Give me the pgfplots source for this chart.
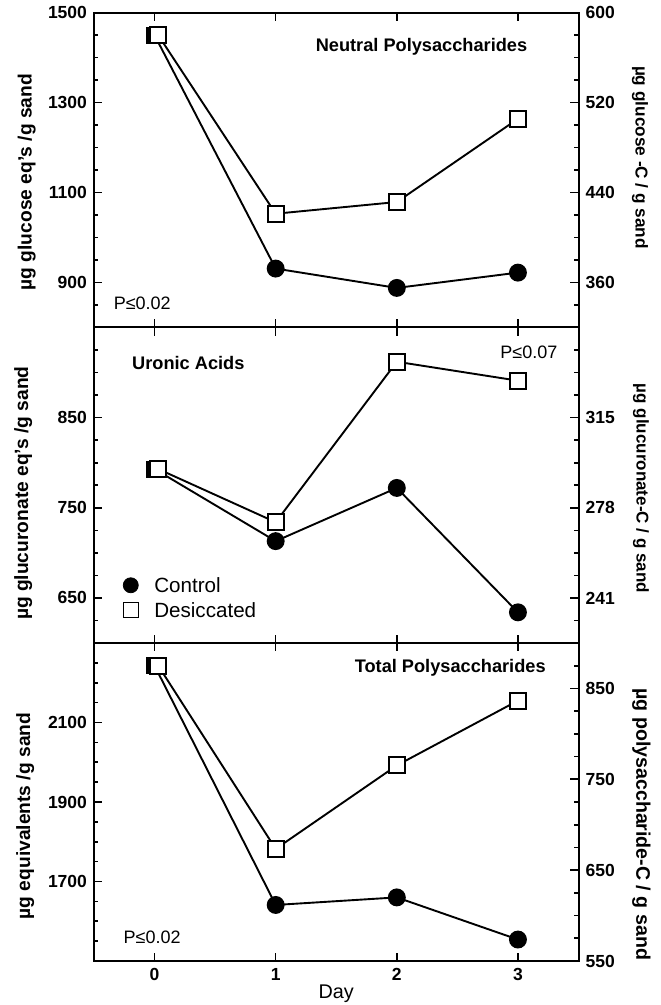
\documentclass[border=0pt]{standalone}
\usepackage{fontspec}
\setmainfont{Liberation Sans}
\usepackage{pgfplots}
\pgfplotsset{compat=1.18}

\pgfplotsset{
  common/.style={
    scale only axis, width=242.25pt,
    xmin=-0.5, xmax=3.5,
    tick align=inside,
    axis line style={-, line width=1pt},
    every tick/.style={black, line width=0.8pt},
    major tick length=4.2pt, minor tick length=2.2pt,
    /pgf/number format/assume math mode=true,
    /pgf/number format/1000 sep={},
    tick label style={font=\bfseries\fontsize{8.75}{10}\selectfont},
    label style={font=\bfseries\fontsize{9.6}{11}\selectfont},
    clip=false,
  },
  base/.style={common, xtick={0,1,2,3}, xtick pos=both, ytick pos=left, minor x tick num=0},
  twin/.style={common, axis x line=none, axis y line*=right, ytick pos=right},
  ctrl/.style={black, line width=0.95pt, mark=*, mark size=4pt, mark indices={2,3,4}, mark options={solid}},
  ctrlzero/.style={only marks, mark=square*, mark size=4pt, black},
  desi/.style={black, line width=0.95pt, mark=square*, mark size=4pt, mark options={solid, fill=white, draw=black, line width=1pt}},
}
\newcommand{\ttl}{\bfseries\fontsize{9.1}{11}\selectfont}
\newcommand{\pval}{\fontsize{9}{11}\selectfont}

\begin{document}
\begin{tikzpicture}
\useasboundingbox (-47pt,-22pt) rectangle (283pt,480.5pt);

% ---------------- Panel 1: Neutral Polysaccharides
\begin{axis}[base, at={(0,316.75pt)}, anchor=south west, height=157.4pt,
  ymin=800, ymax=1500, ytick={900,1100,1300,1500}, minor ytick={850,900,...,1450},
  xticklabels={,,,},
  ylabel={µg glucose eq's /g sand},
  ylabel style={at={(axis description cs:-0.139,0.462)}, anchor=center}]
  \addplot[ctrl] coordinates {(0,1450) (1,931) (2,888) (3,922)};
  \addplot[ctrlzero] coordinates {(0,1450)};
  \addplot[desi] coordinates {(0.03,1450) (1,1053) (2,1079) (3,1264)};
  \node[anchor=base east, inner sep=0pt, font=\ttl] at (axis description cs:0.895,0.876) {Neutral Polysaccharides};
  \node[anchor=base west, inner sep=0pt, font=\pval] at (axis description cs:0.040,0.0556) {P≤0.02};
\end{axis}
\begin{axis}[twin, at={(0,316.75pt)}, anchor=south west, height=157.4pt,
  ymin=320, ymax=600, ytick={360,440,520,600}, minor ytick={340,360,...,580},
  ylabel={µg glucose -C / g sand},
  ylabel style={at={(axis description cs:1.127,0.54)}, anchor=center, rotate=180, font=\bfseries\fontsize{8.6}{10}\selectfont}]
\end{axis}

% ---------------- Panel 2: Uronic Acids
\begin{axis}[base, at={(0,159pt)}, anchor=south west, height=157.75pt,
  ymin=600, ymax=950, ytick={650,750,850}, minor ytick={625,650,...,925},
  xticklabels={,,,},
  ylabel={µg glucuronate eq's /g sand},
  ylabel style={at={(axis description cs:-0.146,0.475)}, anchor=center},
  legend style={at={(axis description cs:0.0596,0.208)}, anchor=north west, draw=none, fill=none,
    inner sep=0pt, row sep=5pt, column sep=6pt, font=\fontsize{10.3}{12}\selectfont,
    nodes={inner ysep=0pt, text height=7.5pt, text depth=0pt}},
  legend cell align=left]
  \addlegendimage{only marks, mark=*, mark size=3.75pt, black}
  \addlegendentry{Control}
  \addlegendimage{only marks, mark=square, mark size=3.75pt, black, line width=0.7pt}
  \addlegendentry{Desiccated}
  \addplot[ctrl, forget plot] coordinates {(0,793) (1,713) (2,772) (3,634)};
  \addplot[ctrlzero, forget plot] coordinates {(0,793)};
  \addplot[desi, forget plot] coordinates {(0.03,793) (1,734) (2,912) (3,891)};
  \node[anchor=base west, inner sep=0pt, font=\ttl] at (axis description cs:0.078,0.8675) {Uronic Acids};
  \node[anchor=base, inner sep=0pt, font=\pval] at (axis description cs:0.8975,0.9024) {P≤0.07};
\end{axis}
\begin{axis}[twin, at={(0,159pt)}, anchor=south west, height=157.75pt,
  ymin=600, ymax=950, ytick={650,750,850}, yticklabels={241,278,315}, minor ytick={625,650,...,925},
  ylabel={µg glucuronate-C / g sand},
  ylabel style={at={(axis description cs:1.129,0.49)}, anchor=center, rotate=180, font=\bfseries\fontsize{8.5}{10}\selectfont}]
\end{axis}

% ---------------- Panel 3: Total Polysaccharides
\begin{axis}[base, at={(0,0)}, anchor=south west, height=159pt,
  ymin=1500, ymax=2300, ytick={1700,1900,2100}, minor ytick={1550,1600,...,2250},
  xlabel={Day},
  xlabel style={at={(axis description cs:0.5,-0.104)}, anchor=center, font=\fontsize{9.9}{11}\selectfont},
  ylabel={µg equivalents /g sand},
  ylabel style={at={(axis description cs:-0.142,0.456)}, anchor=center}]
  \addplot[ctrl] coordinates {(0,2243) (1,1641) (2,1660) (3,1554)};
  \addplot[ctrlzero] coordinates {(0,2243)};
  \addplot[desi] coordinates {(0.03,2243) (1,1782) (2,1992) (3,2155)};
  \node[anchor=base east, inner sep=0pt, font=\ttl] at (axis description cs:0.933,0.9066) {Total Polysaccharides};
  \node[anchor=base west, inner sep=0pt, font=\pval] at (axis description cs:0.0605,0.0557) {P≤0.02};
\end{axis}
\begin{axis}[twin, at={(0,0)}, anchor=south west, height=159pt,
  ymin=550, ymax=900, ytick={550,650,750,850}, minor ytick={575,600,...,875},
  ylabel={µg polysaccharide-C / g sand},
  ylabel style={at={(axis description cs:1.13,0.43)}, anchor=center, rotate=180, font=\bfseries\fontsize{9.8}{12}\selectfont}]
\end{axis}
\end{tikzpicture}
\end{document}
